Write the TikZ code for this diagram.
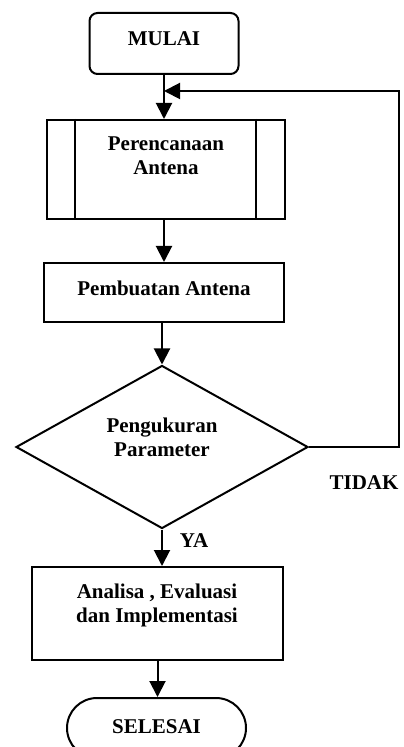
\documentclass[tikz,border=0pt]{standalone}
\usepackage{fontspec}
\setmainfont{Liberation Serif}
\usetikzlibrary{arrows.meta, shapes.geometric}
\def\xRet{399}
\def\yRet{91}
\tikzset{
  fcbox/.style={draw, line width=1pt, inner sep=0pt},
  fclbl/.style={font=\bfseries\fontsize{10.5}{12}\selectfont, align=center, inner sep=0pt},
  fcarr/.style={-{Triangle[length=8pt, width=8pt]}, line width=1pt},
}

\begin{document}
\begin{tikzpicture}[x=0.5pt, y=-0.5pt]
  \useasboundingbox (0,0) rectangle (403,747);

  \node[fcbox, rounded corners=4pt, minimum width=74.5pt, minimum height=30.5pt] (mulai) at (164,43.5) {};
  \node[fclbl] (mulaiT) at (164,38.5) {MULAI};

  \node[fcbox, minimum width=119pt, minimum height=49.5pt] (plan) at (166,169.5) {};
  \draw[line width=1pt] ([xshift=14.5pt]plan.north west) -- ([xshift=14.5pt]plan.south west);
  \draw[line width=1pt] ([xshift=-15pt]plan.north east) -- ([xshift=-15pt]plan.south east);
  \node[fclbl] (planT) at (166,156) {Perencanaan\\Antena};

  \node[fcbox, minimum width=120pt, minimum height=29.5pt] (build) at (164,292.5) {};
  \node[fclbl] (buildT) at (164,288) {Pembuatan Antena};

  \node[fcbox, diamond, minimum width=146pt, minimum height=81.5pt] (dec) at (162,447) {};
  \node[fclbl] (decT) at (162,437.5) {Pengukuran\\Parameter};

  \node[fcbox, minimum width=125.5pt, minimum height=46.5pt] (eval) at (157.5,613.5) {};
  \node[fclbl] (evalT) at (157,605.5) {Analisa , Evaluasi\\dan Implementasi};

  \node[fcbox, rounded corners=15pt, minimum width=89.5pt, minimum height=30pt] (sel) at (156.5,728) {};
  \node[fclbl] (selT) at (156.5,726.5) {SELESAI};

  \node[fclbl] (tidak) at (364,482.5) {TIDAK};
  \node[fclbl] (ya) at (194,541) {YA};

  \coordinate (join) at (164,\yRet);
  \coordinate (corner) at (\xRet,\yRet);

  \draw[fcarr] (mulai.south) -- (mulai.south |- plan.north);
  \draw[fcarr] (build.north |- plan.south) -- (build.north);
  \draw[fcarr] (dec.north |- build.south) -- (dec.north);
  \draw[fcarr] (dec.south) -- (dec.south |- eval.north);
  \draw[fcarr] (eval.south) -- (eval.south |- sel.north);
  \draw[fcarr] (dec.east) -| (corner) -- (join);
\end{tikzpicture}
\end{document}
